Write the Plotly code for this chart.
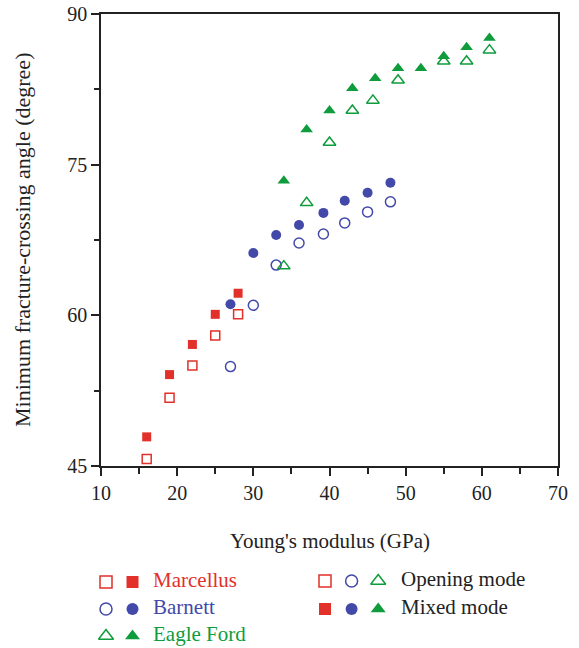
import plotly.graph_objects as go

# Young's modulus (GPa) and minimum fracture-crossing angle (degree)
marcellus_E = [16, 19, 22, 25, 28]
marcellus_opening = [45.7, 51.8, 55.0, 58.0, 60.1]
marcellus_mixed = [47.9, 54.1, 57.1, 60.1, 62.2]

barnett_E = [27, 30, 33, 36, 39.2, 42, 45, 48]
barnett_opening = [54.9, 61.0, 65.0, 67.2, 68.1, 69.2, 70.3, 71.3]
barnett_mixed = [61.1, 66.2, 68.0, 69.0, 70.2, 71.4, 72.2, 73.2]

eagle_E_opening = [34, 37, 40, 43, 45.7, 49, 55, 58, 61]
eagle_opening = [64.9, 71.2, 77.2, 80.4, 81.4, 83.4, 85.3, 85.3, 86.4]
eagle_E_mixed = [34, 37, 40, 43, 46, 49, 52, 55, 58, 61]
eagle_mixed = [73.4, 78.5, 80.4, 82.6, 83.6, 84.6, 84.6, 85.8, 86.7, 87.6]

x_ticks = [10, 20, 30, 40, 50, 60, 70]
y_ticks = [45, 60, 75, 90]

RED = "#E2302A"
BLUE = "#4349A8"
GREEN = "#0E9C3C"
INK = "#222222"
FONT = "Liberation Serif"

W, H = 579, 648
# plot box in pixels
L, R, T, B = 101, 558, 14, 466

fig = go.Figure()


def add_series(x, y, symbol, color, size, filled):
    fig.add_trace(go.Scatter(
        x=x, y=y, mode="markers", showlegend=False,
        marker=dict(
            symbol=symbol if filled else symbol + "-open",
            size=size, color=color,
            line=dict(width=0 if filled else 1.5, color=color),
        ),
    ))


add_series(marcellus_E, marcellus_opening, "square", RED, 9, False)
add_series(marcellus_E, marcellus_mixed, "square", RED, 9, True)
add_series(barnett_E, barnett_opening, "circle", BLUE, 10, False)
add_series(barnett_E, barnett_mixed, "circle", BLUE, 10, True)
add_series(eagle_E_opening, eagle_opening, "triangle-up", GREEN, 11, False)
add_series(eagle_E_mixed, eagle_mixed, "triangle-up", GREEN, 11, True)

# Key drawn on a pixel-space overlay below the plot
key_rows = [
    ("square", RED, "Marcellus", 582),
    ("circle", BLUE, "Barnett", 609),
    ("triangle-up", GREEN, "Eagle Ford", 636),
]
for sym, col, label, yy in key_rows:
    for i, f in enumerate([False, True]):
        fig.add_trace(go.Scatter(
            x=[106 + 26.5 * i], y=[yy], xaxis="x2", yaxis="y2",
            mode="markers", showlegend=False,
            marker=dict(symbol=sym if f else sym + "-open",
                        size=12 if sym != "triangle-up" else 13,
                        color=col, line=dict(width=0 if f else 1.5, color=col)),
        ))
    fig.add_annotation(x=151, y=yy - 2, xref="x2", yref="y2", text=label,
                       showarrow=False, xanchor="left", yanchor="middle",
                       font=dict(family=FONT, size=21, color=col))

mode_rows = [(False, "Opening mode", 581), (True, "Mixed mode", 609)]
for filled, label, yy in mode_rows:
    for i, (sym, col) in enumerate([("square", RED), ("circle", BLUE), ("triangle-up", GREEN)]):
        fig.add_trace(go.Scatter(
            x=[325 + 26.6 * i], y=[yy], xaxis="x2", yaxis="y2",
            mode="markers", showlegend=False,
            marker=dict(symbol=sym if filled else sym + "-open",
                        size=12 if sym != "triangle-up" else 13,
                        color=col, line=dict(width=0 if filled else 1.5, color=col)),
        ))
    fig.add_annotation(x=399, y=yy - 2, xref="x2", yref="y2", text=label,
                       showarrow=False, xanchor="left", yanchor="middle",
                       font=dict(family=FONT, size=21, color=INK))

# Axis titles
fig.add_annotation(x=330, y=541, xref="x2", yref="y2",
                   text="Young's modulus (GPa)", showarrow=False,
                   font=dict(family=FONT, size=21, color=INK))
fig.add_annotation(x=22, y=(T + B) / 2, xref="x2", yref="y2",
                   text="Minimum fracture-crossing angle (degree)", showarrow=False,
                   textangle=-90, font=dict(family=FONT, size=22, color=INK))

axis_common = dict(
    showgrid=False, zeroline=False, showline=True, linecolor=INK, linewidth=1.5,
    mirror=True, ticks="outside", tickcolor=INK, tickwidth=1.5, ticklen=8,
    tickfont=dict(family=FONT, size=20, color=INK), automargin=False,
)

fig.update_layout(
    width=W, height=H,
    margin=dict(l=0, r=0, t=0, b=0),
    paper_bgcolor="white", plot_bgcolor="rgba(0,0,0,0)",
    xaxis=dict(domain=[L / W, R / W], range=[10, 70], tickvals=x_ticks,
               minor=dict(dtick=5, ticks="outside", ticklen=6, tickwidth=1.5, tickcolor=INK),
               anchor="y", **axis_common),
    yaxis=dict(domain=[1 - B / H, 1 - T / H], range=[45, 90], tickvals=y_ticks,
               minor=dict(dtick=7.5, ticks="outside", ticklen=5, tickwidth=1.5, tickcolor=INK),
               anchor="x", **axis_common),
    xaxis2=dict(domain=[0, 1], range=[0, W], visible=False, anchor="y2", fixedrange=True),
    yaxis2=dict(domain=[0, 1], range=[H, 0], visible=False, anchor="x2", fixedrange=True),
)

fig.write_html("out.html")
